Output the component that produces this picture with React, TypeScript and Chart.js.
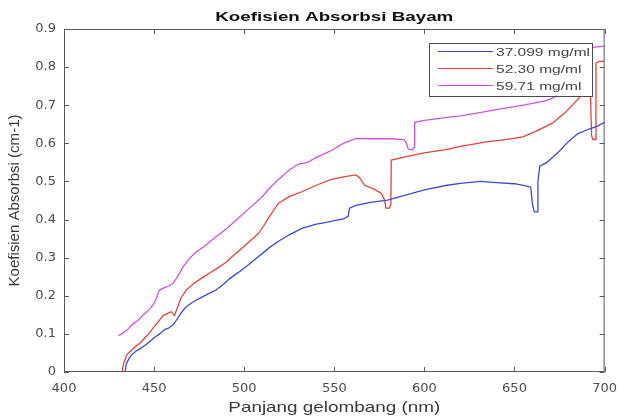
import React, { useEffect, useRef } from "react";
import { Chart, registerables } from "chart.js";

Chart.register(...registerables);

// Text
const titleText = "Koefisien Absorbsi Bayam";
const xTitleText = "Panjang gelombang (nm)";
const yTitleText = "Koefisien Absorbsi (cm-1)";
const seriesLabels = ["37.099 mg/ml", "52.30 mg/ml", "59.71 mg/ml"];

// Axis ticks
const xTicks = [400, 450, 500, 550, 600, 650, 700];
const yTicks = [0, 0.1, 0.2, 0.3, 0.4, 0.5, 0.6, 0.7, 0.8, 0.9];

// 37.099 mg/ml
const nmA = [
  433.8, 434.5, 436, 437.5, 440, 442, 445, 447.6, 450, 453, 456, 458, 460.4, 463, 465,
  467.8, 472, 476, 480, 484.3, 488, 492, 497, 502, 508, 513.6, 519, 525, 532, 540, 545,
  550, 555, 557.6, 558.5, 562, 570, 579.6, 590, 600, 612.6, 620, 631, 640, 650, 657, 659,
  660, 661, 662.5, 663, 664, 668, 675, 680, 685, 690, 693, 696, 700,
];
const absA = [
  -0.005, 0.02, 0.035, 0.045, 0.055, 0.06, 0.07, 0.08, 0.09, 0.1, 0.112, 0.115, 0.123, 0.14,
  0.155, 0.171, 0.185, 0.195, 0.205, 0.215, 0.228, 0.245, 0.262, 0.28, 0.303, 0.325, 0.343,
  0.36, 0.377, 0.388, 0.392, 0.397, 0.402, 0.408, 0.43, 0.437, 0.445, 0.451, 0.465, 0.478,
  0.49, 0.495, 0.5, 0.497, 0.494, 0.488, 0.485, 0.44, 0.42, 0.42, 0.5, 0.54, 0.55, 0.58,
  0.605, 0.625, 0.635, 0.64, 0.645, 0.655,
];

// 52.30 mg/ml
const nmB = [
  432, 433, 434.8, 437, 440, 442, 445, 447, 449.4, 452, 455, 459.5, 461.3, 463, 465, 467.8,
  472, 476, 480.6, 485, 490, 493.4, 500, 508, 511, 513.6, 519, 525, 532, 540, 548, 555, 562,
  564, 566.8, 572, 576, 578, 578.6, 580.5, 581.4, 581.6, 590, 600, 612.6, 620, 634.5, 645,
  654.7, 662, 671, 678, 686, 690, 692, 692.8, 693.5, 694.8, 695.2, 697, 700,
];
const absB = [
  -0.005, 0.02, 0.045, 0.055, 0.068, 0.075, 0.09, 0.1, 0.115, 0.13, 0.148, 0.158, 0.148, 0.17,
  0.195, 0.215, 0.232, 0.245, 0.259, 0.272, 0.288, 0.303, 0.33, 0.364, 0.385, 0.405, 0.443,
  0.46, 0.473, 0.49, 0.505, 0.512, 0.517, 0.51, 0.49, 0.48, 0.469, 0.45, 0.43, 0.43, 0.44,
  0.556, 0.565, 0.575, 0.584, 0.592, 0.604, 0.61, 0.617, 0.632, 0.653, 0.68, 0.72, 0.745,
  0.75, 0.62, 0.61, 0.61, 0.81, 0.815, 0.815,
];

// 59.71 mg/ml
const nmC = [
  430.2, 432, 435, 438, 441, 444, 447.6, 450, 453, 456, 458, 460.4, 463, 466, 470, 473.3, 478,
  484.3, 490, 497, 503, 510, 513.6, 519, 525, 530, 535, 541, 548, 555, 562, 570, 580, 588.8,
  590, 591, 593.5, 594.3, 594.6, 600, 612.6, 620, 630, 643.8, 655, 667.6, 676.8, 682, 687,
  690, 693, 700,
];
const absC = [
  0.095, 0.1, 0.11, 0.125, 0.135, 0.15, 0.165, 0.18, 0.215, 0.222, 0.225, 0.232, 0.25, 0.275,
  0.3, 0.315, 0.33, 0.355, 0.375, 0.405, 0.43, 0.46, 0.48, 0.505, 0.53, 0.545, 0.55, 0.565,
  0.58, 0.6, 0.613, 0.612, 0.612, 0.61, 0.6, 0.585, 0.583, 0.59, 0.655, 0.66, 0.668, 0.672,
  0.68, 0.692, 0.7, 0.712, 0.73, 0.75, 0.79, 0.84, 0.852, 0.855,
];

const seriesColors = ["#3c4bd2", "#e0443a", "#c957dc"];

const toPoints = (xs: number[], ys: number[]) => xs.map((x, i) => ({ x, y: ys[i] }));

// Draws text horizontally fitted to a given width (the figure's text is wide and low)
function drawFitted(
  ctx: CanvasRenderingContext2D,
  text: string,
  x: number,
  y: number,
  font: string,
  width: number,
  align: "left" | "center",
  color: string
) {
  ctx.save();
  ctx.font = font;
  ctx.fillStyle = color;
  ctx.textBaseline = "alphabetic";
  ctx.textAlign = "left";
  const w = ctx.measureText(text).width;
  const sx = width / w;
  ctx.translate(align === "center" ? x - width / 2 : x, y);
  ctx.scale(sx, 1);
  ctx.fillText(text, 0, 0);
  ctx.restore();
}

const framePlugin = {
  id: "matlabFrame",
  afterDraw(chart: any) {
    const { ctx, chartArea } = chart;
    const { left, right, top, bottom } = chartArea;
    const xs = chart.scales.x;
    const ys = chart.scales.y;
    const tick = 5;

    ctx.save();
    // axes box
    ctx.strokeStyle = "#5a5a5a";
    ctx.lineWidth = 1;
    ctx.strokeRect(left + 0.5, top + 0.5, right - left - 1, bottom - top - 1);

    // inward ticks on all four sides
    ctx.beginPath();
    for (const v of xTicks) {
      const px = Math.round(xs.getPixelForValue(v)) + 0.5;
      ctx.moveTo(px, bottom);
      ctx.lineTo(px, bottom - tick);
      ctx.moveTo(px, top);
      ctx.lineTo(px, top + tick);
    }
    for (const v of yTicks) {
      const py = Math.round(ys.getPixelForValue(v)) + 0.5;
      ctx.moveTo(left, py);
      ctx.lineTo(left + tick, py);
      ctx.moveTo(right, py);
      ctx.lineTo(right - tick, py);
    }
    ctx.stroke();

    // legend
    const lx0 = 429.5;
    const ly0 = 43.5;
    const lw = 163;
    const lh = 53;
    ctx.fillStyle = "#ffffff";
    ctx.fillRect(lx0, ly0, lw, lh);
    ctx.strokeStyle = "#4a4a4a";
    ctx.strokeRect(lx0, ly0, lw, lh);
    const rowY = [51.5, 68.5, 85.5];
    ctx.save();
    ctx.font = "11px 'Liberation Sans'";
    const legendScale = 94 / ctx.measureText(seriesLabels[0]).width;
    ctx.restore();
    chart.data.datasets.forEach((ds: any, i: number) => {
      ctx.strokeStyle = ds.borderColor;
      ctx.lineWidth = 1.2;
      ctx.beginPath();
      ctx.moveTo(438, rowY[i]);
      ctx.lineTo(493, rowY[i]);
      ctx.stroke();
      ctx.save();
      ctx.font = "11px 'Liberation Sans'";
      ctx.fillStyle = "#454545";
      ctx.translate(496, rowY[i] + 4);
      ctx.scale(legendScale, 1);
      ctx.fillText(ds.label, 0, 0);
      ctx.restore();
    });

    // title and axis titles
    drawFitted(ctx, titleText, (left + right) / 2, 21, "bold 13px 'Liberation Sans'", 238, "center", "#111111");
    drawFitted(ctx, xTitleText, (left + right) / 2, 412, "15px 'Liberation Sans'", 212, "center", "#3a3a3a");

    ctx.save();
    ctx.translate(19, (top + bottom) / 2);
    ctx.rotate(-Math.PI / 2);
    ctx.font = "14px 'Liberation Sans'";
    ctx.fillStyle = "#3a3a3a";
    ctx.textAlign = "left";
    const yw = ctx.measureText(yTitleText).width;
    ctx.scale(172 / yw, 1);
    ctx.fillText(yTitleText, -yw / 2, 0);
    ctx.restore();

    ctx.restore();
  },
};

export default function App() {
  const canvasRef = useRef<HTMLCanvasElement | null>(null);

  useEffect(() => {
    document.body.style.margin = "0";
    const canvas = canvasRef.current;
    if (!canvas) return;

    const tickFont = { family: "'DejaVu Sans'", size: 13 };

    const chart = new Chart(canvas, {
      type: "line",
      data: {
        datasets: [
          { label: seriesLabels[0], data: toPoints(nmA, absA), borderColor: seriesColors[0] },
          { label: seriesLabels[1], data: toPoints(nmB, absB), borderColor: seriesColors[1] },
          { label: seriesLabels[2], data: toPoints(nmC, absC), borderColor: seriesColors[2] },
        ],
      },
      options: {
        responsive: false,
        animation: false,
        layout: { padding: { left: 0, right: 17, top: 29, bottom: 0 } },
        elements: {
          point: { radius: 0 },
          line: { tension: 0, borderWidth: 1.3, fill: false },
        },
        plugins: {
          legend: { display: false },
          title: { display: false },
          tooltip: { enabled: false },
        },
        scales: {
          x: {
            type: "linear",
            min: 400,
            max: 700,
            afterBuildTicks: (s: any) => {
              s.ticks = xTicks.map((v) => ({ value: v }));
            },
            afterFit: (s: any) => {
              s.height = 45;
            },
            grid: { display: false, drawTicks: false },
            border: { display: false },
            ticks: {
              padding: 9,
              color: "#4d4d4d",
              font: tickFont,
              maxRotation: 0,
              autoSkip: false,
              callback: (v: any) => String(v),
            },
          },
          y: {
            type: "linear",
            min: 0,
            max: 0.9,
            afterBuildTicks: (s: any) => {
              s.ticks = yTicks.map((v) => ({ value: v }));
            },
            afterFit: (s: any) => {
              s.width = 64;
            },
            grid: { display: false, drawTicks: false },
            border: { display: false },
            ticks: {
              padding: 8,
              color: "#4d4d4d",
              font: tickFont,
              autoSkip: false,
              callback: (v: any) => String(Number(Number(v).toFixed(1))),
            },
          },
        },
      },
      plugins: [framePlugin],
    });

    return () => chart.destroy();
  }, []);

  return (
    <div style={{ width: 626, height: 417, background: "#ffffff" }}>
      <canvas ref={canvasRef} width={626} height={417} />
    </div>
  );
}
